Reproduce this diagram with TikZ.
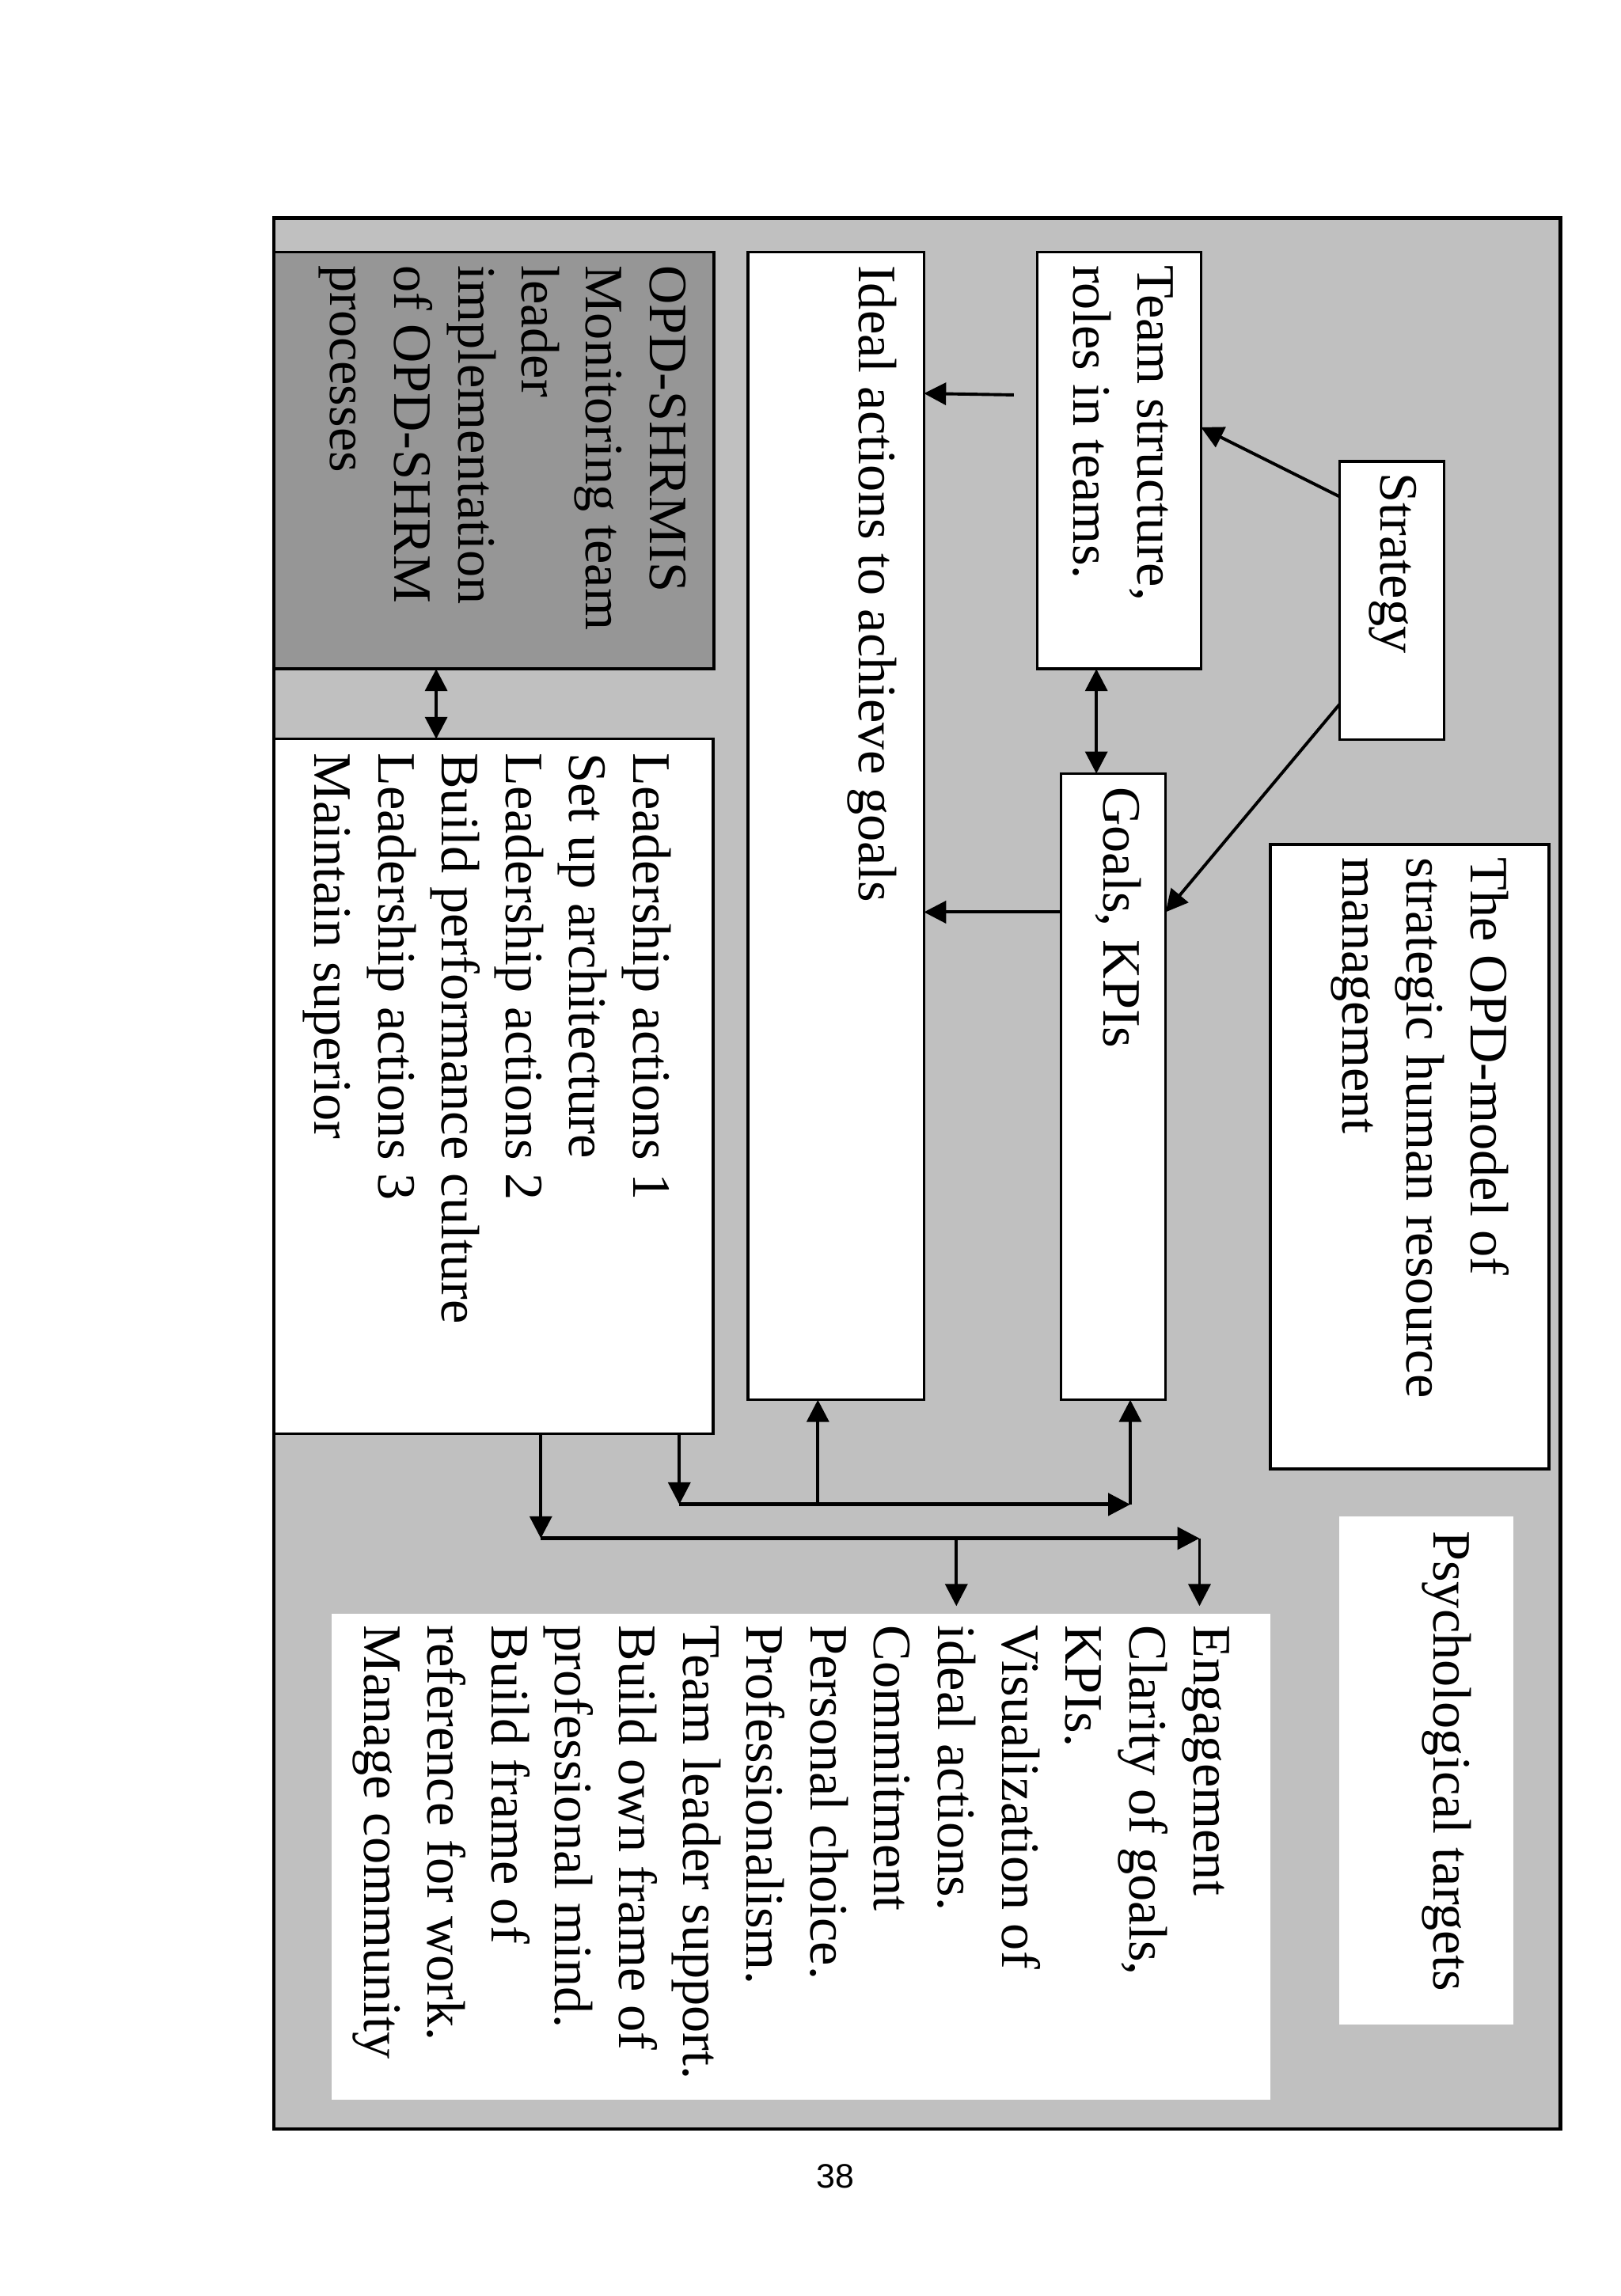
\documentclass[tikz,border=0pt]{standalone}
\usepackage{fontspec}
\setmainfont{Liberation Serif}
\newfontfamily\pgnumfont{Liberation Sans}
\usetikzlibrary{arrows.meta}
\definecolor{framegray}{HTML}{C0C0C0}
\definecolor{boxgray}{HTML}{969696}
\newcommand{\boxlines}[1]{\begin{tabular}[t]{@{}l@{}}#1\end{tabular}}
\begin{document}
\begin{tikzpicture}[x=1pt,y=-1pt,
  framebox/.style={rectangle, draw=black, fill=framegray, line width=2.3pt, inner sep=0pt, outer sep=0pt, anchor=north west},
  wbox/.style={rectangle, draw=black, fill=white, line width=1.9pt, inner sep=0pt, outer sep=0pt, anchor=north west},
  gbox/.style={wbox, fill=boxgray},
  nbox/.style={rectangle, draw=none, fill=white, inner sep=0pt, outer sep=0pt, anchor=north west},
  txt/.style={inner sep=0pt, outer sep=0pt, anchor=base west, rotate=-90, font=\fontsize{36.7}{43.3}\selectfont},
  tip/.tip={Triangle[length=15pt,width=15pt]},
  arr/.style={line width=2.1pt, -tip},
  harr/.style={line width=2.6pt, -tip},
  darr/.style={line width=2.1pt, tip-tip}]
\useasboundingbox (0,0) rectangle (1100,1558.2);

% frame
\node[framebox, minimum width=873pt, minimum height=1297pt] (frame) at (186,148) {};

% boxes
\node[wbox, minimum width=71pt, minimum height=189pt] (strat) at (909,313) {};
\node[wbox, minimum width=111pt, minimum height=283pt] (team) at (704,171) {};
\node[wbox, minimum width=71pt, minimum height=425pt] (goals) at (720,525) {};
\node[wbox, minimum width=119.5pt, minimum height=779pt] (ideal) at (507.5,171) {};
\node[gbox, minimum width=298.5pt, minimum height=283pt] (shrmis) at (186,171) {};
\node[wbox, minimum width=298pt, minimum height=471.5pt] (lead) at (186,501.5) {};
\node[wbox, minimum width=189pt, minimum height=424pt] (opd) at (862,573) {};
\node[nbox, minimum width=118pt, minimum height=345pt] (psych) at (909,1029) {};
\node[nbox, minimum width=637pt, minimum height=330pt] (eng) at (225,1095) {};

% texts
\node[txt] (strat-t) at (937,321) {\boxlines{Strategy}};
\node[txt] (team-t) at (772,180) {\boxlines{Team structure,\\roles in teams.}};
\node[txt] (goals-t) at (749,534) {\boxlines{Goals, KPIs}};
\node[txt] (ideal-t) at (583,180) {\boxlines{Ideal actions to achieve goals}};
\node[txt] (shrmis-t) at (441,180) {\boxlines{OPD-SHRMIS\\Monitoring team\\leader\\implementation\\of OPD-SHRM\\processes}};
\node[txt] (lead-t) at (430,511) {\boxlines{Leadership actions 1\\Set up architecture\\Leadership actions 2\\Build performance culture\\Leadership actions 3\\Maintain superior}};
\node[txt] (opd-t) at (998,582) {\boxlines{The OPD-model of\\strategic human resource\\management}};
\node[txt] (psych-t) at (973,1039) {\boxlines{Psychological targets}};
\node[txt] (eng-t) at (810,1103) {\boxlines{Engagement\\Clarity of goals,\\KPIs.\\Visualization of\\ideal actions.\\Commitment\\Personal choice.\\Professionalism.\\Team leader support.\\Build own frame of\\professional mind.\\Build frame of\\reference for work.\\Manage community}};

% page number
\node[inner sep=0pt, anchor=base, font=\pgnumfont\fontsize{23}{27}\selectfont] (pg) at (567,1485) {38};

% connectors
\draw[arr] ([yshift=-24pt]strat.north west) -- ([yshift=-119pt]team.north east);
\draw[arr] ([yshift=-165pt]strat.north west) -- ([yshift=-94pt]goals.north east);
\draw[darr] ([xshift=40pt]team.south west) -- ([xshift=24pt]goals.north west);
\coordinate (tfree) at (688,268);
\draw[arr] (tfree) -- ([yshift=-96pt]ideal.north east);
\draw[arr] ([yshift=-94pt]goals.north west) coordinate (g1) -- (g1 -| ideal.east);
\draw[darr] ([xshift=110pt]shrmis.south west) -- ([xshift=110pt]lead.north west);

\coordinate (j1) at (461,1021);
\coordinate (j2) at (767,1021);
\coordinate (j3) at (555,1021);
\draw[arr] (j1 |- lead.south) -- (j1);
\draw[harr] (j1) -- (j2);
\draw[arr] (j2) -- (j2 |- goals.south);
\draw[arr] (j3) -- (j3 |- ideal.south);

\coordinate (k1) at (367,1044);
\coordinate (k2) at (814,1044);
\coordinate (k3) at (649,1044);
\draw[arr] (k1 |- lead.south) -- (k1);
\draw[harr] (k1) -- (k2);
\draw[arr, shorten >=5pt] (k2) -- (k2 |- eng.north);
\draw[arr, shorten >=5pt] (k3) -- (k3 |- eng.north);
\end{tikzpicture}
\end{document}
